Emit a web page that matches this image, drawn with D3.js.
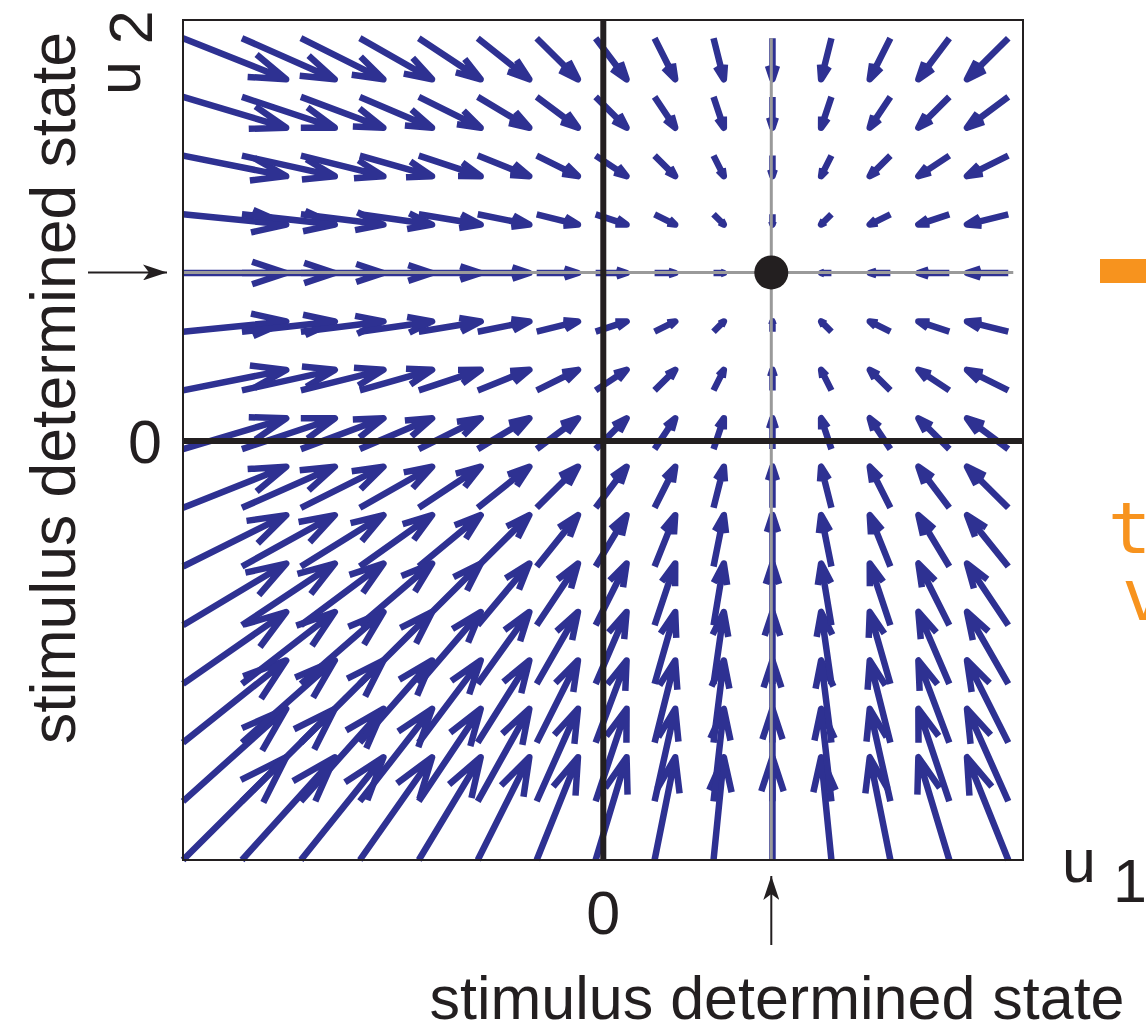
<!DOCTYPE html>
<html>
<head>
<meta charset="utf-8">
<script src="https://cdn.jsdelivr.net/npm/d3@7"></script>
<style>
  html, body { margin: 0; padding: 0; background: #ffffff; }
  svg { display: block; }
  text { font-family: "Liberation Sans", Arial, Helvetica, sans-serif; fill: #231f20; }
</style>
</head>
<body>
<svg id="chart" width="1146" height="1027"></svg>
<script>
// ---- data ----
// grid positions of the arrow tails (u1 columns, u2 rows, bottom to top)
const u1Grid = [-7.13, -6.13, -5.13, -4.13, -3.13, -2.13, -1.13, -0.13, 0.87, 1.87, 2.87, 3.87, 4.87, 5.87, 6.87];
const u2Grid = [-7.14, -6.14, -5.14, -4.14, -3.14, -2.14, -1.14, -0.14, 0.86, 1.86, 2.86, 3.86, 4.86, 5.86, 6.86];
// horizontal velocity component for each column, vertical component for each row
const du1ByColumn = [10, 9, 8, 7, 6, 5, 4, 3, 2, 1, 0, -1, -2, -3, -4];
const du2ByRow    = [10, 9, 8, 7, 6, 5, 4, 3, 2, 1, 0, -1, -2, -3, -4];
// stimulus determined state (fixed point)
const stimulusState = [2.85, 2.87];
// axis ticks
const u1Ticks = [0];
const u2Ticks = [0];
const tickLabels = ["0"];

// ---- layout ----
const svg = d3.select("#chart");
const x = d3.scaleLinear().domain([-7.13, 7.12]).range([183, 1023]);
const y = d3.scaleLinear().domain([-7.14, 7.17]).range([860, 20]);
const arrowScale = 0.175;   // data units of arrow length per velocity unit
const alpha = 0.33, beta = 0.33; // arrow head proportions
const blue = "#2e3192";

// vector field
const vectors = [];
u1Grid.forEach((u1, i) => {
  u2Grid.forEach((u2, j) => {
    vectors.push({u1, u2, du1: du1ByColumn[i], du2: du2ByRow[j]});
  });
});

const gArrows = svg.append("g");
vectors.forEach(v => {
  if (v.du1 === 0 && v.du2 === 0) return;
  const x0 = x(v.u1), y0 = y(v.u2);
  const x1 = x(v.u1 + arrowScale * v.du1), y1 = y(v.u2 + arrowScale * v.du2);
  const dx = x1 - x0, dy = y1 - y0;
  const b1x = x1 - alpha * (dx + beta * dy), b1y = y1 - alpha * (dy - beta * dx);
  const b2x = x1 - alpha * (dx - beta * dy), b2y = y1 - alpha * (dy + beta * dx);
  const p = d3.path();
  p.moveTo(x0, y0); p.lineTo(x1, y1);
  p.moveTo(b1x, b1y); p.lineTo(x1, y1); p.lineTo(b2x, b2y);
  gArrows.append("path")
    .attr("d", p.toString())
    .attr("fill", "none")
    .attr("stroke", blue)
    .attr("stroke-width", 6.5)
    .attr("stroke-linecap", "butt")
    .attr("stroke-linejoin", "round");
});

// gray lines through the stimulus determined state
svg.append("line")
  .attr("x1", x(u1Grid[0])).attr("x2", x(u1Grid[u1Grid.length - 1]) + 5)
  .attr("y1", y(stimulusState[1])).attr("y2", y(stimulusState[1]))
  .attr("stroke", "#9a9a9a").attr("stroke-width", 3);
svg.append("line")
  .attr("x1", x(stimulusState[0])).attr("x2", x(stimulusState[0]))
  .attr("y1", y(u2Grid[u2Grid.length - 1])).attr("y2", y(u2Grid[0]))
  .attr("stroke", "#9a9a9a").attr("stroke-width", 3);

// zero axes
u1Ticks.forEach(t => {
  svg.append("line")
    .attr("x1", x(t)).attr("x2", x(t))
    .attr("y1", y.range()[1]).attr("y2", y.range()[0])
    .attr("stroke", "#231f20").attr("stroke-width", 6);
});
u2Ticks.forEach(t => {
  svg.append("line")
    .attr("x1", x.range()[0]).attr("x2", x.range()[1])
    .attr("y1", y(t)).attr("y2", y(t))
    .attr("stroke", "#231f20").attr("stroke-width", 6);
});

// frame
svg.append("rect")
  .attr("x", x.range()[0]).attr("y", y.range()[1])
  .attr("width", x.range()[1] - x.range()[0])
  .attr("height", y.range()[0] - y.range()[1])
  .attr("fill", "none").attr("stroke", "#231f20").attr("stroke-width", 2);

// fixed point
svg.append("circle")
  .attr("cx", x(stimulusState[0])).attr("cy", y(stimulusState[1]))
  .attr("r", 17).attr("fill", "#231f20");

// tick labels
u1Ticks.forEach((t, k) => {
  svg.append("text").attr("x", x(t)).attr("y", 934)
    .attr("text-anchor", "middle").attr("font-size", 61).text(tickLabels[k]);
});
u2Ticks.forEach((t, k) => {
  svg.append("text").attr("x", 162).attr("y", y(t) + 22)
    .attr("text-anchor", "end").attr("font-size", 61).text(tickLabels[k]);
});

// axis names
const u1Label = svg.append("text").attr("x", 1062).attr("y", 882).attr("font-size", 61);
u1Label.append("tspan").text("u ");
u1Label.append("tspan").attr("dy", 20).text("1");

const u2Label = svg.append("text")
  .attr("transform", "translate(140,95) rotate(-90)").attr("font-size", 61);
u2Label.append("tspan").text("u ");
u2Label.append("tspan").attr("dy", 12).text("2");

svg.append("text")
  .attr("transform", "translate(75,388) rotate(-90)")
  .attr("text-anchor", "middle").attr("font-size", 62.5)
  .text("stimulus determined state");
svg.append("text")
  .attr("x", 777).attr("y", 1019)
  .attr("text-anchor", "middle").attr("font-size", 61)
  .text("stimulus determined state");

// pointer arrows to the stimulus determined state
const defs = svg.append("defs");
defs.append("marker").attr("id", "head")
  .attr("viewBox", "0 0 24 16").attr("refX", 24).attr("refY", 8)
  .attr("markerWidth", 24).attr("markerHeight", 16).attr("markerUnits", "userSpaceOnUse")
  .attr("orient", "auto")
  .append("path").attr("d", "M0,0 L24,8 L0,16 L6,8 Z").attr("fill", "#231f20");

svg.append("line")
  .attr("x1", 88).attr("x2", 167)
  .attr("y1", y(stimulusState[1])).attr("y2", y(stimulusState[1]))
  .attr("stroke", "#231f20").attr("stroke-width", 2)
  .attr("marker-end", "url(#head)");
svg.append("line")
  .attr("x1", x(stimulusState[0])).attr("x2", x(stimulusState[0]))
  .attr("y1", 945).attr("y2", 876)
  .attr("stroke", "#231f20").attr("stroke-width", 2)
  .attr("marker-end", "url(#head)");

// partially visible orange slide content at the right edge
svg.append("rect").attr("x", 1100).attr("y", 259).attr("width", 60).attr("height", 24)
  .attr("fill", "#f7931e");
svg.append("text").attr("x", 1108).attr("y", 553)
  .style("font-family", "'DejaVu Sans Mono', monospace").style("font-size", "72px")
  .style("fill", "#f7931e").text("t");
svg.append("text").attr("x", 1122).attr("y", 620)
  .style("font-family", "'DejaVu Sans Mono', monospace").style("font-size", "72px")
  .style("fill", "#f7931e").text("v");
</script>
</body>
</html>
